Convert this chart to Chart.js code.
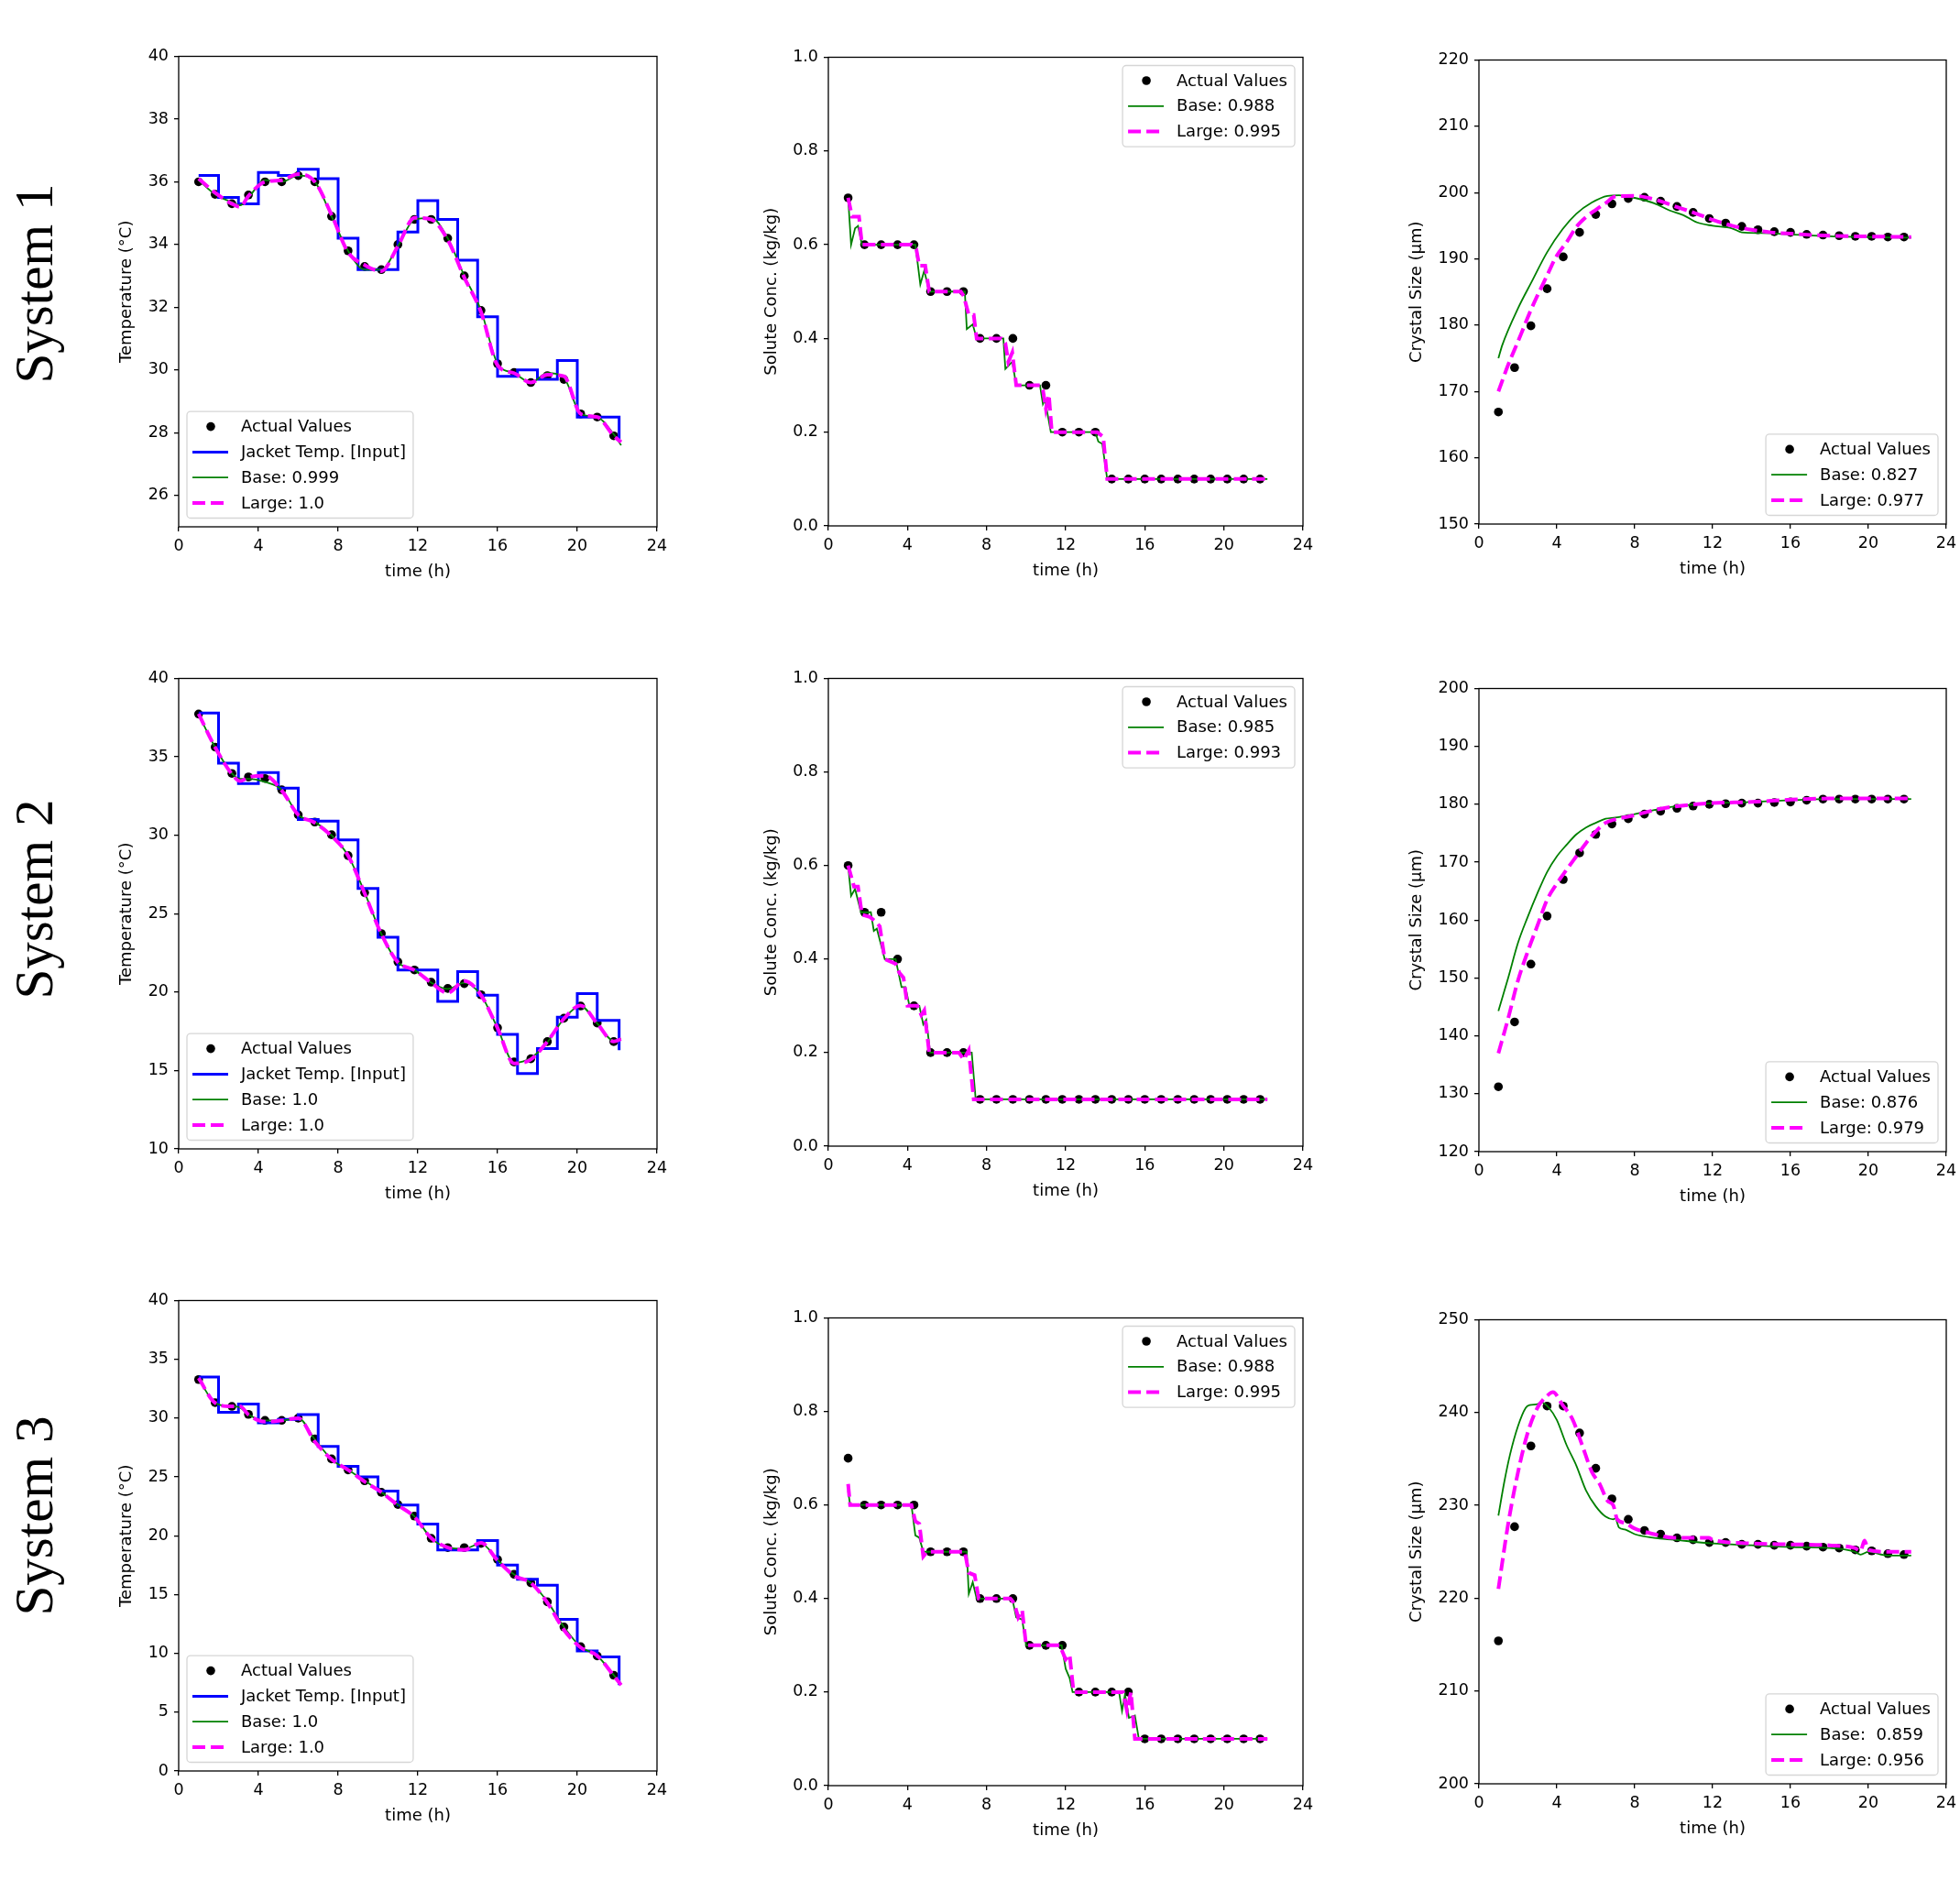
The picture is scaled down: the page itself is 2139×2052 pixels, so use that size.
<!DOCTYPE html>
<html>
<head>
<meta charset="utf-8">
<script src="https://cdn.jsdelivr.net/npm/chart.js@4.4.1/dist/chart.umd.min.js"></script>
<style>
  body { margin: 0; background: #fff; width: 2139px; height: 2052px; position: relative; overflow: hidden; }
  canvas { position: absolute; }
  .sys {
    position: absolute; width: 300px; height: 65px; line-height: 65px;
    text-align: center; white-space: nowrap;
    font-family: "Liberation Serif", "DejaVu Serif", serif; font-size: 59px; color: #000;
    transform: rotate(-90deg);
  }
</style>
</head>
<body>
<div class="sys" style="left:-113px; top:277px;">System 1</div>
<div class="sys" style="left:-113px; top:949px;">System 2</div>
<div class="sys" style="left:-113px; top:1622px;">System 3</div>
<script>
// ---- shared axes ----
const timeTicks = [0, 4, 8, 12, 16, 20, 24];
const sampleTime = [1.0, 1.83, 2.67, 3.5, 4.33, 5.17, 6.0, 6.83, 7.67, 8.5, 9.33, 10.17, 11.0,
  11.83, 12.67, 13.5, 14.33, 15.17, 16.0, 16.83, 17.67, 18.5, 19.33, 20.17, 21.0, 21.83];
const jacketTime = [1, 2, 3, 4, 5, 6, 7, 8, 9, 10, 11, 12, 13, 14, 15, 16, 17, 18, 19, 20, 21, 22.1];
const tempModelTime = [1.0, 1.83, 2.67, 3.08, 3.5, 4.33, 5.17, 6.0, 6.83, 7.67, 8.5, 9.33, 10.17, 11.0,
  11.83, 12.67, 13.5, 14.33, 15.17, 16.0, 16.83, 17.67, 18.5, 19.33, 20.17, 21.0, 21.83, 22.2];

// ---- temperature ----
const temp1Ticks = [26, 28, 30, 32, 34, 36, 38, 40];
const temp2Ticks = [10, 15, 20, 25, 30, 35, 40];
const temp3Ticks = [0, 5, 10, 15, 20, 25, 30, 35, 40];

const temp1Actual = [36.0, 35.6, 35.3, 35.58, 36.0, 36.0, 36.2, 36.0, 34.9, 33.8, 33.3, 33.2, 34.0,
  34.8, 34.8, 34.2, 33.0, 31.9, 30.2, 29.92, 29.6, 29.82, 29.7, 28.6, 28.5, 27.9];
const temp1Jacket = [36.2, 35.5, 35.3, 36.3, 36.2, 36.4, 36.1, 34.2, 33.2, 33.2, 34.4, 35.4, 34.8,
  33.5, 31.7, 29.8, 30.0, 29.7, 30.3, 28.5, 28.5, 27.8];
const temp1Base = [36.05, 35.6, 35.35, 35.25, 35.5, 36.05, 36.0, 36.2, 36.0, 34.9, 33.8, 33.2, 33.2, 33.95,
  34.8, 34.85, 34.2, 33.0, 31.9, 30.2, 29.9, 29.6, 29.9, 29.75, 28.6, 28.5, 27.95, 27.6];
const temp1Large = [36.1, 35.65, 35.3, 35.2, 35.55, 36.0, 36.05, 36.25, 36.0, 34.95, 33.75, 33.35, 33.15, 33.95,
  34.85, 34.8, 34.15, 32.95, 31.85, 30.15, 29.9, 29.6, 29.85, 29.8, 28.6, 28.5, 27.9, 27.7];

const temp2Actual = [37.73, 35.62, 33.94, 33.72, 33.62, 32.9, 31.3, 30.84, 30.03, 28.7, 26.34, 23.73, 21.93,
  21.41, 20.63, 20.23, 20.54, 19.83, 17.72, 15.54, 15.75, 16.84, 18.33, 19.11, 18.02, 16.84];
const temp2Jacket = [37.8, 34.6, 33.3, 34.0, 33.0, 31.0, 30.9, 29.7, 26.6, 23.5, 21.4, 21.4, 19.4,
  21.3, 19.8, 17.3, 14.8, 16.4, 18.4, 19.9, 18.2, 16.3];
const temp2Base = [37.7, 35.6, 33.95, 33.6, 33.6, 33.4, 32.9, 31.3, 30.85, 30.0, 28.7, 26.35, 23.7, 21.9,
  21.4, 20.6, 20.2, 20.6, 19.8, 17.7, 15.5, 15.8, 16.8, 18.3, 19.1, 18.0, 16.9, 17.0];
const temp2Large = [37.75, 35.6, 33.9, 33.45, 33.7, 33.8, 32.85, 31.3, 30.8, 29.95, 28.7, 26.3, 23.7, 21.9,
  21.4, 20.6, 19.95, 20.7, 19.8, 17.7, 15.45, 15.7, 16.85, 18.3, 19.15, 18.0, 16.85, 17.0];

const temp3Actual = [33.28, 31.32, 31.0, 30.32, 29.81, 29.81, 30.0, 28.23, 26.53, 25.6, 24.67, 23.69, 22.65,
  21.67, 19.78, 18.99, 18.99, 19.34, 17.98, 16.72, 16.0, 14.38, 12.24, 10.57, 9.78, 8.14];
const temp3Jacket = [33.5, 30.5, 31.2, 29.6, 29.9, 30.3, 27.6, 25.9, 25.0, 23.8, 22.6, 21.0, 18.8,
  18.8, 19.6, 17.5, 16.3, 15.8, 12.9, 10.2, 9.7, 7.3];
const temp3Base = [33.3, 31.3, 31.0, 30.9, 30.3, 29.8, 29.8, 30.0, 28.2, 26.5, 25.6, 24.7, 23.7, 22.65,
  21.65, 19.8, 19.0, 18.9, 19.35, 17.95, 16.7, 16.0, 14.4, 12.25, 10.55, 9.8, 8.15, 7.4];
const temp3Large = [33.4, 31.3, 31.0, 31.0, 30.3, 29.7, 29.8, 30.0, 28.0, 26.5, 25.6, 24.6, 23.7, 22.6,
  21.6, 19.8, 19.0, 18.8, 19.4, 17.9, 16.6, 16.0, 14.3, 12.0, 10.5, 9.8, 8.1, 7.3];

// ---- solute concentration ----
const concTicks = [0.0, 0.2, 0.4, 0.6, 0.8, 1.0];

const conc1Actual = [0.7, 0.6, 0.6, 0.6, 0.6, 0.5, 0.5, 0.5, 0.4, 0.4, 0.4, 0.3, 0.3,
  0.2, 0.2, 0.2, 0.1, 0.1, 0.1, 0.1, 0.1, 0.1, 0.1, 0.1, 0.1, 0.1];
const conc1BaseT = [1.0, 1.15, 1.35, 1.5, 1.7, 4.4, 4.65, 4.85, 5.1, 6.9, 7.0, 7.3, 7.5, 8.85, 8.95, 9.3,
  9.5, 10.7, 10.85, 10.95, 11.25, 13.5, 13.65, 13.85, 14.1, 22.2];
const conc1BaseV = [0.7, 0.6, 0.635, 0.64, 0.6, 0.6, 0.515, 0.545, 0.5, 0.5, 0.42, 0.43, 0.4, 0.4, 0.335, 0.35,
  0.3, 0.3, 0.26, 0.27, 0.2, 0.2, 0.18, 0.175, 0.1, 0.1];
const conc1LargeT = [1.0, 1.2, 1.55, 1.7, 4.2, 4.45, 4.6, 4.9, 5.1, 6.7, 6.85, 7.1, 7.35, 7.5, 8.75, 8.95,
  9.1, 9.3, 9.5, 10.7, 10.85, 11.0, 11.15, 11.3, 13.6, 13.9, 14.1, 22.2];
const conc1LargeV = [0.7, 0.66, 0.66, 0.6, 0.6, 0.59, 0.555, 0.555, 0.5, 0.5, 0.49, 0.45, 0.45, 0.4, 0.4, 0.39,
  0.35, 0.37, 0.3, 0.3, 0.29, 0.25, 0.28, 0.2, 0.2, 0.19, 0.1, 0.1];

const conc2Actual = [0.6, 0.5, 0.5, 0.4, 0.3, 0.2, 0.2, 0.2, 0.1, 0.1, 0.1, 0.1, 0.1,
  0.1, 0.1, 0.1, 0.1, 0.1, 0.1, 0.1, 0.1, 0.1, 0.1, 0.1, 0.1, 0.1];
const conc2BaseT = [1.0, 1.15, 1.35, 1.65, 2.15, 2.3, 2.45, 2.85, 3.4, 3.7, 3.9, 4.1, 4.6, 4.8, 4.95, 5.15,
  7.25, 7.45, 22.2];
const conc2BaseV = [0.6, 0.535, 0.55, 0.5, 0.5, 0.46, 0.465, 0.4, 0.4, 0.34, 0.34, 0.3, 0.3, 0.26, 0.27, 0.2,
  0.2, 0.1, 0.1];
const conc2LargeT = [1.0, 1.3, 1.5, 1.7, 2.1, 2.4, 2.6, 2.85, 3.4, 3.6, 3.8, 4.0, 4.5, 4.7, 4.85, 5.1,
  6.6, 6.85, 7.1, 7.35, 22.2];
const conc2LargeV = [0.6, 0.555, 0.555, 0.495, 0.49, 0.48, 0.47, 0.4, 0.39, 0.37, 0.36, 0.3, 0.3, 0.28, 0.29, 0.2,
  0.2, 0.185, 0.205, 0.1, 0.1];

const conc3Actual = [0.7, 0.6, 0.6, 0.6, 0.6, 0.5, 0.5, 0.5, 0.4, 0.4, 0.4, 0.3, 0.3,
  0.3, 0.2, 0.2, 0.2, 0.2, 0.1, 0.1, 0.1, 0.1, 0.1, 0.1, 0.1, 0.1];
const conc3BaseT = [1.0, 1.1, 4.2, 4.4, 4.6, 4.8, 7.0, 7.1, 7.3, 7.5, 9.3, 9.5, 9.8, 10.0, 11.8, 12.0,
  12.2, 12.35, 14.7, 14.85, 15.0, 15.2, 15.5, 15.7, 22.2];
const conc3BaseV = [0.63, 0.6, 0.6, 0.535, 0.53, 0.5, 0.5, 0.41, 0.435, 0.4, 0.4, 0.36, 0.355, 0.3, 0.3, 0.25,
  0.23, 0.2, 0.2, 0.16, 0.195, 0.145, 0.15, 0.1, 0.1];
const conc3LargeT = [1.0, 1.1, 4.2, 4.4, 4.6, 4.8, 5.0, 6.9, 7.1, 7.4, 7.6, 9.2, 9.4, 9.6, 9.8, 10.0,
  11.7, 12.0, 12.2, 12.4, 14.9, 15.1, 15.3, 15.5, 22.2];
const conc3LargeV = [0.645, 0.6, 0.6, 0.565, 0.56, 0.49, 0.5, 0.5, 0.455, 0.45, 0.4, 0.4, 0.39, 0.36, 0.375, 0.3,
  0.3, 0.27, 0.28, 0.2, 0.2, 0.16, 0.2, 0.1, 0.1];

// ---- crystal size ----
const size1Ticks = [150, 160, 170, 180, 190, 200, 210, 220];
const size2Ticks = [120, 130, 140, 150, 160, 170, 180, 190, 200];
const size3Ticks = [200, 210, 220, 230, 240, 250];

const size1Actual = [166.9, 173.6, 179.9, 185.5, 190.3, 194.0, 196.7, 198.3, 199.1, 199.3, 198.7, 197.9, 197.0,
  196.1, 195.4, 194.9, 194.4, 194.1, 194.0, 193.7, 193.6, 193.5, 193.4, 193.4, 193.3, 193.3];
const size1BaseT = [1.0, 1.2, 2.0, 2.7, 3.5, 4.3, 5.0, 5.8, 6.6, 7.2, 8.0, 9.0, 9.8, 10.5, 11.2, 12.0,
  13.0, 13.5, 14.5, 16, 18, 22.2];
const size1BaseV = [175, 177, 182.5, 186.5, 191, 194.5, 196.8, 198.5, 199.5, 199.6, 199.2, 198.4, 197.3, 196.6,
  195.5, 195.0, 194.6, 194.0, 193.9, 193.7, 193.4, 193.2];
const size1LargeT = [1.0, 1.5, 2.0, 2.7, 3.5, 4.0, 4.5, 5.0, 5.5, 6.0, 6.5, 7.0, 8.0, 9.0, 10, 11, 12,
  13, 14, 15, 16, 18, 22.2];
const size1LargeV = [170, 174, 177.5, 182.5, 187.5, 190.5, 192.5, 194.8, 196.3, 197.4, 198.4, 199.4, 199.5,
  199.0, 198.0, 197.0, 195.9, 195.0, 194.4, 194.0, 193.8, 193.5, 193.3];

const size2Actual = [131.2, 142.4, 152.4, 160.7, 167.0, 171.6, 174.8, 176.6, 177.5, 178.3, 178.8, 179.3, 179.7,
  180.0, 180.1, 180.2, 180.2, 180.3, 180.4, 180.7, 180.9, 180.9, 180.9, 180.9, 180.9, 180.9];
const size2ModelT = [1.0, 1.5, 2.0, 2.5, 3.0, 3.5, 4.0, 4.5, 5.0, 5.5, 6.0, 6.5, 7.0, 8.0, 9, 10, 12,
  14, 16, 18, 22.2];
const size2BaseV = [144.3, 150, 156, 160.5, 164.6, 168.3, 171, 173, 174.8, 176, 176.8, 177.5, 177.7, 178.3,
  179.0, 179.6, 180.2, 180.4, 180.7, 180.9, 180.9];
const size2LargeV = [137, 143, 149.5, 154.5, 159, 163.5, 166.3, 168.7, 171.0, 173.3, 175.3, 176.8, 177.4, 178.1,
  179.0, 179.6, 180.2, 180.4, 180.8, 181.0, 181.0];

const size3Actual = [215.4, 227.7, 236.4, 240.7, 240.7, 237.8, 234.0, 230.7, 228.5, 227.3, 226.9, 226.5, 226.3,
  226.0, 226.0, 225.8, 225.8, 225.7, 225.7, 225.6, 225.5, 225.4, 225.2, 225.1, 224.8, 224.7];
const size3BaseT = [1.0, 1.3, 1.6, 2.0, 2.4, 2.6, 3.0, 3.2, 3.6, 4.0, 4.5, 5.0, 5.5, 6.0, 6.5, 6.9, 7.0,
  7.2, 7.5, 8.0, 9.0, 10, 12, 14, 16, 18, 19.3, 19.6, 20, 21, 22.2];
const size3BaseV = [228.9, 232.5, 235.5, 238.5, 240.5, 240.8, 240.9, 241.1, 240.5, 239.2, 236.5, 234.3, 231.6,
  229.9, 228.8, 228.5, 228.6, 227.6, 227.4, 226.9, 226.5, 226.3, 225.9, 225.7, 225.5, 225.4, 225.0, 224.7,
  225.0, 224.6, 224.6];
const size3LargeT = [1.0, 1.5, 2.0, 2.5, 3.0, 3.5, 3.8, 4.3, 4.8, 5.3, 5.8, 6.2, 6.6, 6.9, 7.1, 7.5, 8,
  9, 10, 11.8, 12, 14, 16, 18, 19.3, 19.6, 19.8, 20, 21, 22.2];
const size3LargeV = [221, 228, 233.5, 237.8, 240.5, 241.8, 242.2, 240.8, 239.3, 236.5, 233.6, 232.3, 230.5,
  230.0, 228.5, 228.1, 227.5, 226.9, 226.5, 226.5, 226.3, 225.9, 225.8, 225.7, 225.4, 225.1, 226.2, 225.2,
  225.0, 225.0];

// ---- layout / style ----
const FONT = '"DejaVu Sans", sans-serif';
const PAD_T = 14, PAD_R = 26, X_H = 60;

const pts = (xs, ys) => xs.map((x, i) => ({ x: x, y: ys[i] }));

// frame around the plot area plus a matplotlib style legend box
const framePlugin = {
  id: 'frameLegend',
  afterDatasetsDraw(chart, args, opts) {
    const ctx = chart.ctx, a = chart.chartArea;
    ctx.save();
    ctx.strokeStyle = '#000';
    ctx.lineWidth = 1.3;
    ctx.strokeRect(a.left, a.top, a.right - a.left, a.bottom - a.top);

    const items = chart.data.datasets;
    ctx.font = '18px ' + FONT;
    const rowH = 27.8;
    const tw = Math.max(...items.map(d => ctx.measureText(d.label).width));
    const w = 59 + tw + 8;
    const h = (items.length - 1) * rowH + 33;
    const x = opts.where.includes('left') ? a.left + 9 : a.right - 9 - w;
    const y = opts.where.includes('lower') ? a.bottom - 9.5 - h : a.top + 9;

    ctx.beginPath();
    ctx.roundRect(x, y, w, h, 4);
    ctx.fillStyle = 'rgba(255,255,255,0.8)';
    ctx.fill();
    ctx.strokeStyle = '#d6d6d6';
    ctx.lineWidth = 1.3;
    ctx.stroke();

    items.forEach((d, i) => {
      const cy = y + 16.5 + i * rowH;
      if (d.showLine === false) {
        ctx.beginPath();
        ctx.arc(x + 26, cy, 4.8, 0, Math.PI * 2);
        ctx.fillStyle = '#000';
        ctx.fill();
      } else {
        ctx.beginPath();
        ctx.setLineDash(d.borderDash || []);
        ctx.strokeStyle = d.borderColor;
        ctx.lineWidth = d.borderWidth;
        ctx.moveTo(x + 6, cy);
        ctx.lineTo(x + 45, cy);
        ctx.stroke();
        ctx.setLineDash([]);
      }
      ctx.fillStyle = '#000';
      ctx.textBaseline = 'middle';
      ctx.textAlign = 'left';
      ctx.fillText(d.label, x + 59, cy + 1);
    });
    ctx.restore();
  }
};

function makePanel(p) {
  const cv = document.createElement('canvas');
  const W = p.yW + p.w + PAD_R, H = PAD_T + p.h + X_H;
  cv.width = W; cv.height = H;
  cv.style.left = (p.x - p.yW) + 'px';
  cv.style.top = (p.y - PAD_T) + 'px';
  cv.style.width = W + 'px';
  cv.style.height = H + 'px';
  document.body.appendChild(cv);

  const smooth = p.stepLines ? { tension: 0 } : { cubicInterpolationMode: 'monotone' };
  const ds = [];
  ds.push({ label: 'Actual Values', data: pts(sampleTime, p.actual), showLine: false,
    pointRadius: 4.8, pointBackgroundColor: '#000', pointBorderWidth: 0, order: 4 });
  if (p.jacket) {
    ds.push({ label: 'Jacket Temp. [Input]', data: pts(jacketTime, p.jacket), showLine: true, stepped: true,
      borderColor: '#0000ff', borderWidth: 3, pointRadius: 0, order: 3 });
  }
  ds.push(Object.assign({ label: p.baseLabel, data: pts(p.baseT, p.baseV), showLine: true,
    borderColor: '#008000', borderWidth: 1.8, pointRadius: 0, order: 2 }, smooth));
  ds.push(Object.assign({ label: p.largeLabel, data: pts(p.largeT, p.largeV), showLine: true,
    borderColor: '#ff00ff', borderWidth: 4, borderDash: [14, 6], pointRadius: 0, order: 1 }, smooth));

  const tickFont = { family: FONT, size: 17.5 };
  const grid = { drawOnChartArea: false, drawTicks: true, tickLength: 5, color: '#000', lineWidth: 1.3 };

  new Chart(cv, {
    type: 'scatter',
    data: { datasets: ds },
    plugins: [framePlugin],
    options: {
      responsive: false,
      animation: false,
      events: [],
      layout: { padding: { top: PAD_T, right: PAD_R, left: 0, bottom: 0 } },
      plugins: {
        legend: { display: false },
        tooltip: { enabled: false },
        frameLegend: { where: p.legend }
      },
      scales: {
        x: {
          type: 'linear', min: 0, max: 24,
          afterBuildTicks: s => { s.ticks = timeTicks.map(v => ({ value: v })); },
          afterFit: s => { s.height = X_H; },
          ticks: { font: tickFont, color: '#000', padding: 6, autoSkip: false, maxRotation: 0, minRotation: 0 },
          grid: grid,
          border: { display: false },
          title: { display: true, text: 'time (h)', color: '#000', font: { family: FONT, size: 18 }, padding: 0 }
        },
        y: {
          type: 'linear', min: p.yMin, max: p.yMax,
          afterBuildTicks: s => { s.ticks = p.yTicks.map(v => ({ value: v })); },
          afterFit: s => { s.width = p.yW; },
          ticks: { font: tickFont, color: '#000', padding: 6,
            callback: v => p.stepLines ? v.toFixed(1) : String(v) },
          grid: grid,
          border: { display: false },
          title: { display: true, text: p.yTitle, color: '#000', font: { family: FONT, size: 18 }, padding: 0 }
        }
      }
    }
  });
}

const TEMP_T = 'Temperature (°C)', CONC_T = 'Solute Conc. (kg/kg)', SIZE_T = 'Crystal Size (μm)';

const panels = [
  { x: 195, y: 59, w: 522, h: 516, yW: 67, yTitle: TEMP_T, yMin: 25, yMax: 40, yTicks: temp1Ticks,
    actual: temp1Actual, jacket: temp1Jacket, baseT: tempModelTime, baseV: temp1Base,
    largeT: tempModelTime, largeV: temp1Large, baseLabel: 'Base: 0.999', largeLabel: 'Large: 1.0', legend: 'lower left' },
  { x: 904, y: 60, w: 518, h: 514, yW: 72, yTitle: CONC_T, yMin: 0, yMax: 1, yTicks: concTicks, stepLines: true,
    actual: conc1Actual, baseT: conc1BaseT, baseV: conc1BaseV, largeT: conc1LargeT, largeV: conc1LargeV,
    baseLabel: 'Base: 0.988', largeLabel: 'Large: 0.995', legend: 'upper right' },
  { x: 1614, y: 63, w: 510, h: 509, yW: 78, yTitle: SIZE_T, yMin: 150, yMax: 220, yTicks: size1Ticks,
    actual: size1Actual, baseT: size1BaseT, baseV: size1BaseV, largeT: size1LargeT, largeV: size1LargeV,
    baseLabel: 'Base: 0.827', largeLabel: 'Large: 0.977', legend: 'lower right' },

  { x: 195, y: 738, w: 522, h: 516, yW: 67, yTitle: TEMP_T, yMin: 10, yMax: 40, yTicks: temp2Ticks,
    actual: temp2Actual, jacket: temp2Jacket, baseT: tempModelTime, baseV: temp2Base,
    largeT: tempModelTime, largeV: temp2Large, baseLabel: 'Base: 1.0', largeLabel: 'Large: 1.0', legend: 'lower left' },
  { x: 904, y: 738, w: 518, h: 513, yW: 72, yTitle: CONC_T, yMin: 0, yMax: 1, yTicks: concTicks, stepLines: true,
    actual: conc2Actual, baseT: conc2BaseT, baseV: conc2BaseV, largeT: conc2LargeT, largeV: conc2LargeV,
    baseLabel: 'Base: 0.985', largeLabel: 'Large: 0.993', legend: 'upper right' },
  { x: 1614, y: 749, w: 510, h: 508, yW: 78, yTitle: SIZE_T, yMin: 120, yMax: 200, yTicks: size2Ticks,
    actual: size2Actual, baseT: size2ModelT, baseV: size2BaseV, largeT: size2ModelT, largeV: size2LargeV,
    baseLabel: 'Base: 0.876', largeLabel: 'Large: 0.979', legend: 'lower right' },

  { x: 195, y: 1417, w: 522, h: 516, yW: 67, yTitle: TEMP_T, yMin: 0, yMax: 40, yTicks: temp3Ticks,
    actual: temp3Actual, jacket: temp3Jacket, baseT: tempModelTime, baseV: temp3Base,
    largeT: tempModelTime, largeV: temp3Large, baseLabel: 'Base: 1.0', largeLabel: 'Large: 1.0', legend: 'lower left' },
  { x: 904, y: 1436, w: 518, h: 513, yW: 72, yTitle: CONC_T, yMin: 0, yMax: 1, yTicks: concTicks, stepLines: true,
    actual: conc3Actual, baseT: conc3BaseT, baseV: conc3BaseV, largeT: conc3LargeT, largeV: conc3LargeV,
    baseLabel: 'Base: 0.988', largeLabel: 'Large: 0.995', legend: 'upper right' },
  { x: 1614, y: 1438, w: 510, h: 509, yW: 78, yTitle: SIZE_T, yMin: 200, yMax: 250, yTicks: size3Ticks,
    actual: size3Actual, baseT: size3BaseT, baseV: size3BaseV, largeT: size3LargeT, largeV: size3LargeV,
    baseLabel: 'Base:  0.859', largeLabel: 'Large: 0.956', legend: 'lower right' }
];

panels.forEach(makePanel);
</script>
</body>
</html>
